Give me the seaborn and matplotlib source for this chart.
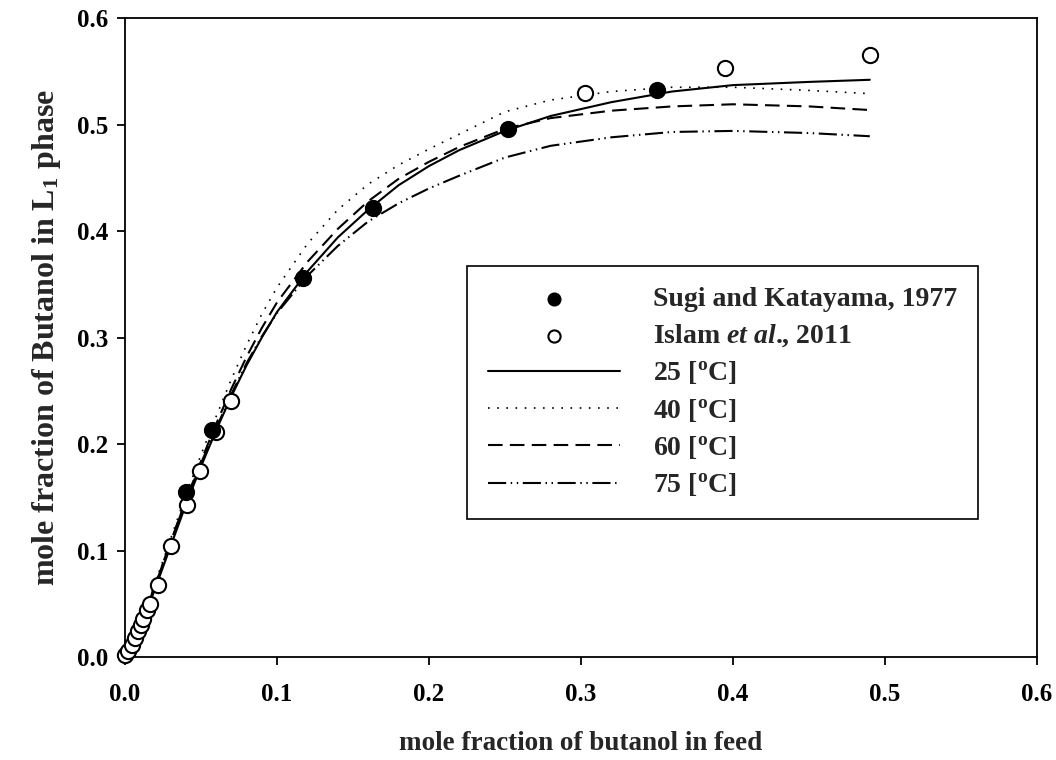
import matplotlib
matplotlib.use("Agg")
import matplotlib.pyplot as plt
import seaborn as sns

# --- Data ---
# Sugi and Katayama, 1977 (filled circles)
sugi_x = [0.040, 0.057, 0.117, 0.163, 0.252, 0.350]
sugi_y = [0.155, 0.213, 0.356, 0.422, 0.4955, 0.532]

# Islam et al., 2011 (open circles)
islam_x = [0.0, 0.002, 0.0044, 0.0066, 0.0088, 0.0105, 0.012, 0.0142, 0.0164,
           0.0215, 0.030, 0.041, 0.049, 0.060, 0.070, 0.3026, 0.3947, 0.490]
islam_y = [0.002, 0.006, 0.011, 0.0175, 0.024, 0.030, 0.036, 0.044, 0.050,
           0.068, 0.1045, 0.143, 0.175, 0.211, 0.240, 0.530, 0.553, 0.565]

# model curves (feed fraction grid shared by all temperatures)
feed_x = [0, 0.005, 0.01, 0.015, 0.02, 0.03, 0.04, 0.05, 0.06, 0.07, 0.08, 0.09,
          0.10, 0.12, 0.14, 0.16, 0.18, 0.20, 0.22, 0.25, 0.28, 0.32, 0.36,
          0.40, 0.45, 0.49]
t25_y = [0, 0.012, 0.028, 0.046, 0.065, 0.104, 0.143, 0.179, 0.213, 0.245, 0.274,
         0.300, 0.324, 0.362, 0.394, 0.420, 0.443, 0.461, 0.476, 0.494, 0.508,
         0.521, 0.531, 0.537, 0.540, 0.542]
t40_y = [0, 0.013, 0.031, 0.050, 0.070, 0.111, 0.152, 0.190, 0.226, 0.261, 0.293,
         0.322, 0.347, 0.388, 0.420, 0.444, 0.462, 0.477, 0.491, 0.512, 0.523,
         0.531, 0.535, 0.535, 0.532, 0.529]
t60_y = [0, 0.012, 0.030, 0.049, 0.068, 0.108, 0.147, 0.184, 0.219, 0.252, 0.282,
         0.309, 0.333, 0.371, 0.402, 0.428, 0.449, 0.465, 0.479, 0.496, 0.506,
         0.513, 0.517, 0.519, 0.517, 0.5136]
t75_y = [0, 0.012, 0.030, 0.049, 0.069, 0.108, 0.147, 0.182, 0.215, 0.247, 0.276,
         0.301, 0.323, 0.358, 0.386, 0.409, 0.426, 0.440, 0.452, 0.469, 0.480,
         0.488, 0.493, 0.494, 0.492, 0.489]

ticks = [0.0, 0.1, 0.2, 0.3, 0.4, 0.5, 0.6]

# --- Style ---
sns.set_style('ticks')
plt.rcParams['font.family'] = ['Liberation Serif', 'DejaVu Serif']
plt.rcParams['font.weight'] = 'bold'
plt.rcParams['mathtext.fontset'] = 'custom'
plt.rcParams['mathtext.rm'] = 'Liberation Serif:bold'
plt.rcParams['mathtext.bf'] = 'Liberation Serif:bold'
plt.rcParams['mathtext.it'] = 'Liberation Serif:italic:bold'
plt.rcParams['mathtext.default'] = 'rm'

fig = plt.figure(figsize=(10.56, 7.6), dpi=100)
ax = fig.add_axes([0.1184, 0.1355, 0.8636, 0.8408])

lw = 1.5
sns.lineplot(x=feed_x, y=t25_y, ax=ax, color='black', lw=lw, estimator=None,
             sort=False, label='25 [$^\\mathrm{o}$C]')
sns.lineplot(x=feed_x, y=t40_y, ax=ax, color='black', lw=1.2, estimator=None,
             sort=False, linestyle=(0, (1, 4.5)), label='40 [$^\\mathrm{o}$C]')
sns.lineplot(x=feed_x, y=t60_y, ax=ax, color='black', lw=lw, estimator=None,
             sort=False, linestyle=(0, (7, 3.5)), label='60 [$^\\mathrm{o}$C]')
sns.lineplot(x=feed_x, y=t75_y, ax=ax, color='black', lw=lw, estimator=None,
             sort=False, linestyle=(0, (8.7, 2.2, 0.7, 2.2, 0.7, 2.2)),
             label='75 [$^\\mathrm{o}$C]')

sns.scatterplot(x=sugi_x, y=sugi_y, ax=ax, color='black', s=130,
                edgecolor='black', linewidth=1, zorder=5, clip_on=False,
                label='Sugi and Katayama, 1977')
sns.scatterplot(x=islam_x, y=islam_y, ax=ax, facecolor='white', s=120,
                edgecolor='black', linewidth=1.5, zorder=4, clip_on=False,
                label='Islam $\\mathit{et\\ al}$., 2011')

ax.set_xlim(0, 0.6)
ax.set_ylim(0, 0.6)
ax.set_xticks(ticks)
ax.set_yticks(ticks)
ax.set_xticklabels([f'{t:.1f}' for t in ticks])
ax.set_yticklabels([f'{t:.1f}' for t in ticks])
ax.tick_params(axis='both', direction='out', length=6, width=1.3,
               labelsize=18, colors='black')
ax.tick_params(axis='x', pad=13)
ax.tick_params(axis='y', pad=6)
for sp in ax.spines.values():
    sp.set_visible(True)
    sp.set_linewidth(1.3)
    sp.set_color('black')

ax.set_xlabel('mole fraction of butanol in feed', fontsize=19.5,
              fontweight='bold', labelpad=18)
ax.set_ylabel('mole fraction of Butanol in L$_1$ phase', fontsize=23,
              fontweight='bold', labelpad=10)

# legend: data first, then the model curves
handles, labels = ax.get_legend_handles_labels()
order = [4, 5, 0, 1, 2, 3]
leg = ax.legend([handles[i] for i in order], [labels[i] for i in order],
                loc='upper left', bbox_to_anchor=(0.375, 0.612),
                prop={'family': 'Liberation Serif', 'weight': 'bold', 'size': 20},
                frameon=True, fancybox=False, edgecolor='black',
                handlelength=4.75, handletextpad=1.2, labelspacing=0.37,
                borderpad=0.75, borderaxespad=0, markerscale=0.8)
leg.get_frame().set_linewidth(1.2)
leg.get_frame().set_alpha(1)

fig.savefig('out.png', dpi=100)
